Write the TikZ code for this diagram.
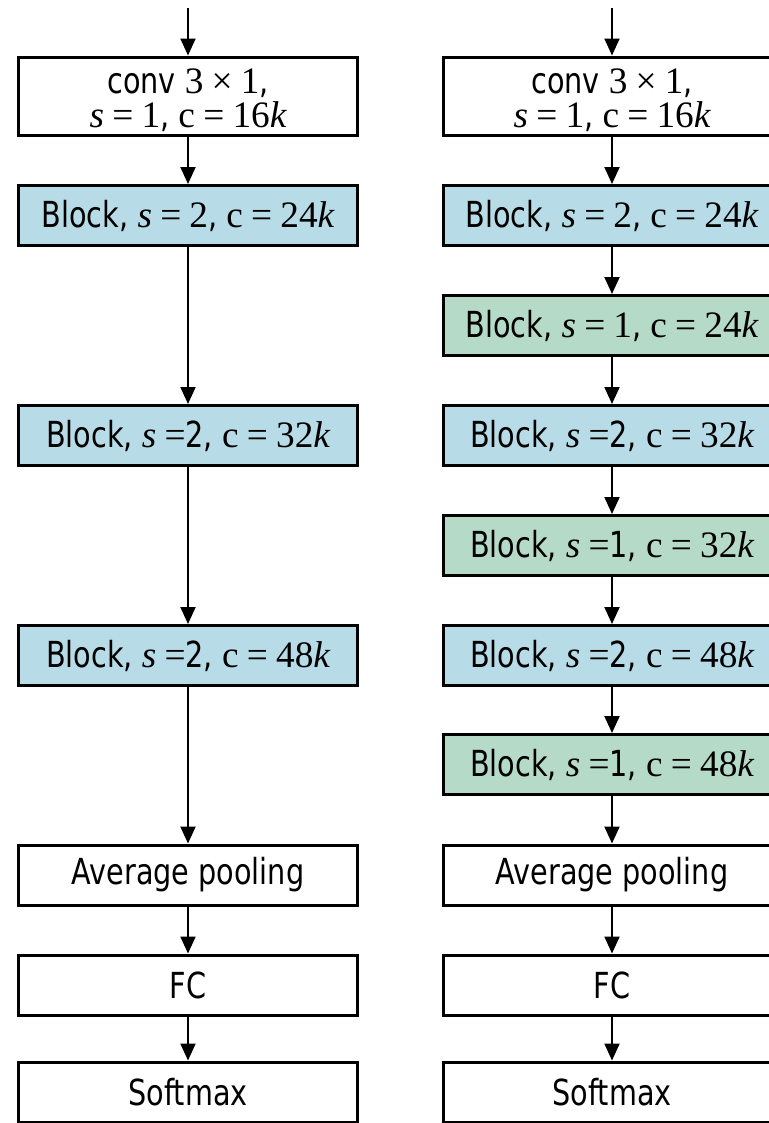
\documentclass[tikz,border=0pt]{standalone}
\usepackage{fontspec}
\setmainfont{DejaVu Sans}[FakeStretch=0.8]
\newfontfamily\mth{Liberation Serif}[Scale=1.04]
\usetikzlibrary{arrows.meta}
\definecolor{bluefill}{RGB}{183,220,231}
\definecolor{greenfill}{RGB}{182,218,200}
\newcommand{\mi}[1]{{\mth\itshape #1}}
\newcommand{\mr}[1]{{\mth #1}}
\newcommand{\eqs}{{\mth\hspace{0.22em}=\hspace{0.22em}}}
\newcommand{\eqn}{{\mth\hspace{0.22em}=}}
\newcommand{\convtext}{conv \mr{3\hspace{0.22em}×\hspace{0.22em}1},\\\mi{s}\eqs\mr{1}, \mr{c}\eqs\mr{16}\mi{k}}
\tikzset{
  box/.style={draw, line width=3bp, minimum width=338bp, minimum height=60bp,
    inner sep=0pt, align=center, font=\fontsize{36}{33}\selectfont},
  bbox/.style={box, fill=bluefill},
  gbox/.style={box, fill=greenfill},
  convbox/.style={box, minimum height=78bp,
    label={[inner sep=0pt, align=center, font=\fontsize{36}{34}\selectfont, yshift=-4bp]center:\convtext}},
  arr/.style={-{Triangle[width=15bp,length=17bp]}, line width=2bp},
}
\begin{document}
\begin{tikzpicture}[x=1bp,y=-1bp]
\useasboundingbox (0,0) rectangle (769,1123);
\clip (0,0) rectangle (769,1123);
% left column
\coordinate (Lin) at (188,8);
\node[convbox] (L0) at (188,96) {};
\node[bbox] (L1) at (188,215.5) {Block, \mi{s}\eqs\mr{2}, \mr{c}\eqs\mr{24}\mi{k}};
\node[bbox] (L2) at (188,435.5) {Block, \mi{s}\eqn2, \mr{c}\eqs\mr{32}\mi{k}};
\node[bbox] (L3) at (188,655.5) {Block, \mi{s}\eqn2, \mr{c}\eqs\mr{48}\mi{k}};
\node[box] (L4) at (188,875) {Average pooling};
\node[box] (L5) at (188,985) {FC};
\node[box] (L6) at (188,1092) {Softmax};
\draw[arr] (Lin) -- (L0);
\draw[arr] (L0) -- (L1);
\draw[arr] (L1) -- (L2);
\draw[arr] (L2) -- (L3);
\draw[arr] (L3) -- (L4);
\draw[arr] (L4) -- (L5);
\draw[arr] (L5) -- (L6);
% right column
\coordinate (Rin) at (612,8);
\node[convbox] (R0) at (612,96) {};
\node[bbox] (R1) at (612,215.5) {Block, \mi{s}\eqs\mr{2}, \mr{c}\eqs\mr{24}\mi{k}};
\node[gbox] (R2) at (612,325.5) {Block, \mi{s}\eqs\mr{1}, \mr{c}\eqs\mr{24}\mi{k}};
\node[bbox] (R3) at (612,435.5) {Block, \mi{s}\eqn2, \mr{c}\eqs\mr{32}\mi{k}};
\node[gbox] (R4) at (612,545.5) {Block, \mi{s}\eqn1, \mr{c}\eqs\mr{32}\mi{k}};
\node[bbox] (R5) at (612,655.5) {Block, \mi{s}\eqn2, \mr{c}\eqs\mr{48}\mi{k}};
\node[gbox] (R6) at (612,764.5) {Block, \mi{s}\eqn1, \mr{c}\eqs\mr{48}\mi{k}};
\node[box] (R7) at (612,875) {Average pooling};
\node[box] (R8) at (612,985) {FC};
\node[box] (R9) at (612,1092) {Softmax};
\draw[arr] (Rin) -- (R0);
\draw[arr] (R0) -- (R1);
\draw[arr] (R1) -- (R2);
\draw[arr] (R2) -- (R3);
\draw[arr] (R3) -- (R4);
\draw[arr] (R4) -- (R5);
\draw[arr] (R5) -- (R6);
\draw[arr] (R6) -- (R7);
\draw[arr] (R7) -- (R8);
\draw[arr] (R8) -- (R9);
\end{tikzpicture}
\end{document}
